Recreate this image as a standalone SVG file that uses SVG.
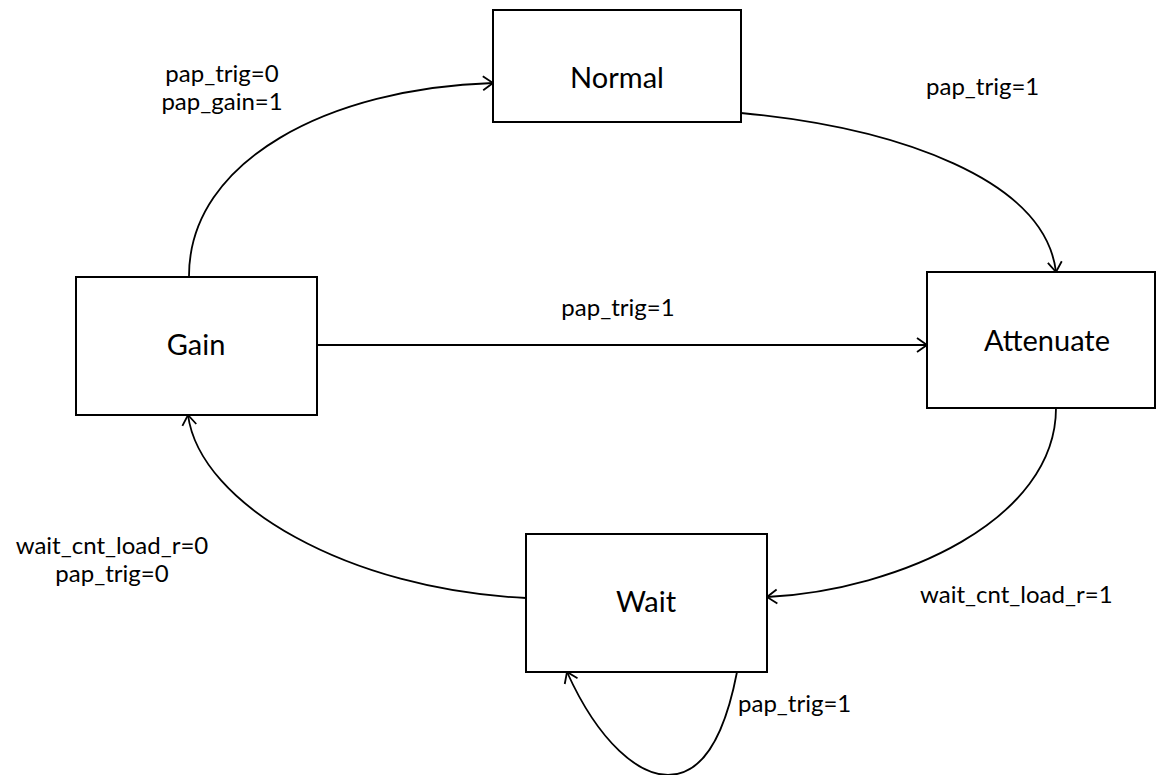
<svg xmlns="http://www.w3.org/2000/svg" width="1160" height="775" viewBox="0 0 1160 775">
<style>
.box{fill:#fff;stroke:#000;stroke-width:2}
.nl{font-family:Lato,"Liberation Sans",sans-serif;font-size:29px;fill:#000;text-anchor:middle}
.el{font-family:Lato,"Liberation Sans",sans-serif;font-size:24px;fill:#000}
.c{fill:none;stroke:#000;stroke-width:1.8}
</style>
<defs>
<marker id="arr" markerWidth="16" markerHeight="18" refX="13" refY="9" orient="auto" markerUnits="userSpaceOnUse">
<path d="M3,2 L13,9 L3,16" fill="none" stroke="#000" stroke-width="1.8"/>
</marker>
</defs>
<rect width="1160" height="775" fill="#fff"/>
<g id="connectors">
<path class="c" marker-end="url(#arr)" d="M189,276 C189,160 330,88 493,83"/>
<path class="c" marker-end="url(#arr)" d="M741,113 C900,128 1045,180 1056,272"/>
<path class="c" marker-end="url(#arr)" d="M317,345 L927,345"/>
<path class="c" marker-end="url(#arr)" d="M1056,408 C1056,520 900,590 767,597"/>
<path class="c" marker-end="url(#arr)" d="M526,598 C350,590 200,505 188,415"/>
<path class="c" marker-end="url(#arr)" d="M737,672 C720,760 690,775 668,775 C640,775 600,745 567,672"/>
<text class="el" x="222" y="82" text-anchor="middle">pap_trig=0</text>
<text class="el" x="222" y="110" text-anchor="middle">pap_gain=1</text>
<text class="el" x="926" y="95">pap_trig=1</text>
<text class="el" x="618" y="316" text-anchor="middle">pap_trig=1</text>
<text class="el" x="112" y="554" text-anchor="middle">wait_cnt_load_r=0</text>
<text class="el" x="112" y="582" text-anchor="middle">pap_trig=0</text>
<text class="el" x="920" y="603">wait_cnt_load_r=1</text>
<text class="el" x="738" y="712">pap_trig=1</text>
</g>
<g id="normal"><rect class="box" x="493" y="10" width="248" height="112"/><text class="nl" x="617" y="88">Normal</text></g>
<g id="attenuate"><rect class="box" x="927" y="272" width="228" height="136"/><text class="nl" x="1047" y="351">Attenuate</text></g>
<g id="gain"><rect class="box" x="76" y="277" width="241" height="138"/><text class="nl" x="196" y="355">Gain</text></g>
<g id="wait"><rect class="box" x="526" y="534" width="241" height="138"/><text class="nl" x="646" y="612">Wait</text></g>
</svg>
